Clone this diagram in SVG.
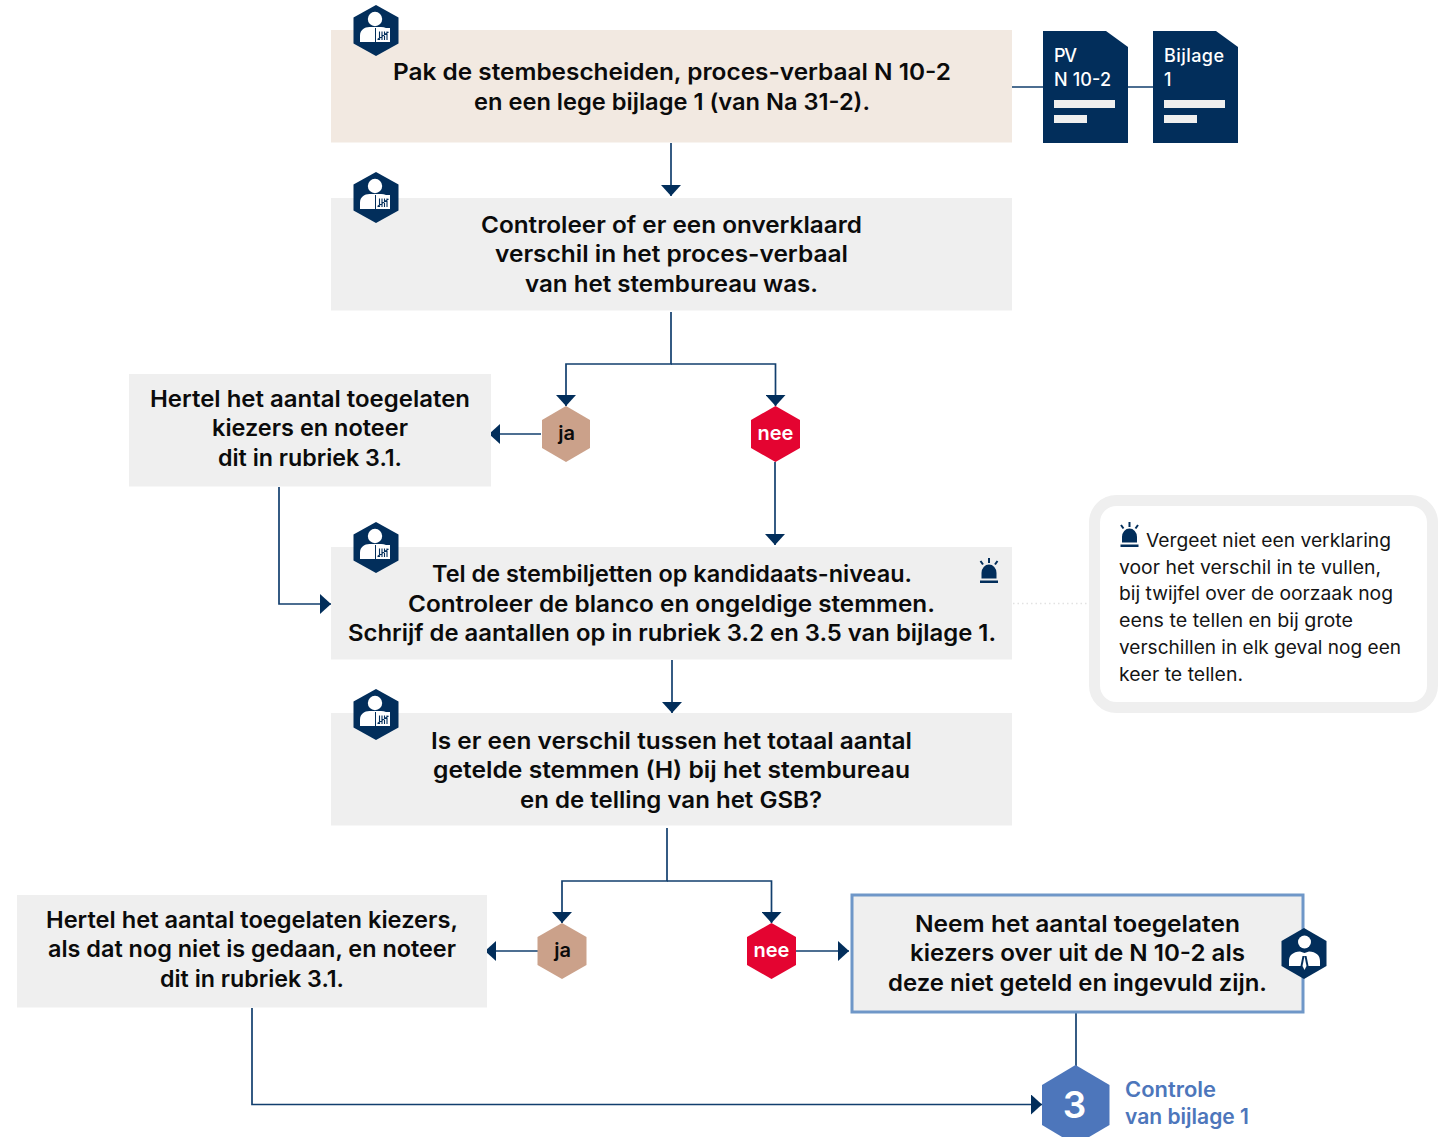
<svg xmlns="http://www.w3.org/2000/svg" width="1441" height="1137" viewBox="0 0 1441 1137">
<style>
text{font-family:"Inter","Liberation Sans",sans-serif}
.t{font-size:22.5px;font-weight:600;fill:#0b0b0b}
.p{font-size:18.5px;font-weight:400;fill:#141414}
.box{fill:#efefef}
.c{fill:none;stroke:#123f6e;stroke-width:1.7}
.a{marker-end:url(#arr)}
.d{fill:#022e5b}
.dt{font-size:18px;font-weight:500;fill:#fff}
.l{font-size:21px;font-weight:600;fill:#4d76bb}
</style>
<defs>
<marker id="arr" markerUnits="userSpaceOnUse" markerWidth="11" markerHeight="20" refX="11" refY="10" orient="auto"><path d="M0 0L11 10L0 20Z" fill="#022e5b"/></marker>
<g id="worker">
<path d="M0-25.500L22.500-13V13L0 25.500L-22.500 13V-13Z" fill="#022e5b"/>
<circle cx="-1" cy="-11.500" r="7.200" fill="#fff"/>
<path d="M-16 11.500V5C-16-.5-11.500-3.500-6.500-3.500H5Q8-3.500 10-2.500H-1V11.500Z" fill="#fff"/>
<rect x="0" y="-2.500" width="14" height="14" fill="#fff"/>
<path d="M3.500 1V9.500M6 1V9.500M8.500 1V9.500M11 1V9.500M1.500 9L12.500 1.500" fill="none" stroke="#022e5b" stroke-width="1.100"/>
</g>
<g id="siren">
<path d="M-9 25H9V22.500H-9ZM-7.500 20.500H7.500V15A7.500 8.500 0 0 0-7.500 15Z" fill="#022e5b"/>
<path d="M0 0V5M-8.500 3L-6 6.500M8.500 3L6 6.500" fill="none" stroke="#022e5b" stroke-width="2"/>
</g>
</defs>
<g id="connectors">
<path class="c" d="M1012 87H1043M1128 87H1153"/>
<path class="c a" d="M671 143V196"/>
<path class="c a" d="M671 312V364H566V406"/>
<path class="c a" d="M671 364H775.500V406"/>
<path class="c a" d="M541 434H489"/>
<path class="c a" d="M775 462V545"/>
<path class="c a" d="M279 487V604H331"/>
<path class="c a" d="M672 660V713"/>
<path class="c a" d="M667 828V881H562V923"/>
<path class="c a" d="M667 881H771.500V923"/>
<path class="c a" d="M538 951H485"/>
<path class="c a" d="M796 951H849"/>
<path class="c a" d="M252 1008V1104.500H1042"/>
<path class="c" d="M1076 1013V1066"/>
<path d="M1013 603.500H1088" fill="none" stroke="#e2e2e2" stroke-width="1.500" stroke-dasharray="1.500 3"/>
</g>
<g id="n1">
<rect x="331" y="30" width="681" height="112.500" fill="#f2e9e1"/>
<use href="#worker" x="376" y="30.500"/>
<text class="t" x="393" y="80" textLength="558" lengthAdjust="spacingAndGlyphs">Pak de stembescheiden, proces-verbaal N 10-2</text>
<text class="t" x="474" y="110" textLength="396" lengthAdjust="spacingAndGlyphs">en een lege bijlage 1 (van Na 31-2).</text>
</g>
<g id="doc-pv">
<path class="d" d="M1043 31H1106L1128 47V143H1043Z"/>
<text class="dt" x="1054" y="62" textLength="23">PV</text>
<text class="dt" x="1054" y="86" textLength="57">N 10-2</text>
<rect x="1054" y="100" width="61" height="8" fill="#efefef"/><rect x="1054" y="115" width="33" height="8" fill="#efefef"/>
</g>
<g id="doc-bijlage">
<path class="d" d="M1153 31H1216L1238 47V143H1153Z"/>
<text class="dt" x="1164" y="62" textLength="60">Bijlage</text>
<text class="dt" x="1164" y="86">1</text>
<rect x="1164" y="100" width="61" height="8" fill="#efefef"/><rect x="1164" y="115" width="33" height="8" fill="#efefef"/>
</g>
<g id="n2">
<rect class="box" x="331" y="198" width="681" height="112.500"/>
<use href="#worker" x="376" y="197.500"/>
<text class="t" x="481" y="233" textLength="381" lengthAdjust="spacingAndGlyphs">Controleer of er een onverklaard</text>
<text class="t" x="495" y="262" textLength="353" lengthAdjust="spacingAndGlyphs">verschil in het proces-verbaal</text>
<text class="t" x="525" y="292" textLength="293" lengthAdjust="spacingAndGlyphs">van het stembureau was.</text>
</g>
<g id="n-hertel1">
<rect class="box" x="129" y="374" width="362" height="112.500"/>
<text class="t" x="150" y="407" textLength="320" lengthAdjust="spacingAndGlyphs">Hertel het aantal toegelaten</text>
<text class="t" x="212" y="436" textLength="196" lengthAdjust="spacingAndGlyphs">kiezers en noteer</text>
<text class="t" x="218" y="466" textLength="184" lengthAdjust="spacingAndGlyphs">dit in rubriek 3.1.</text>
</g>
<g id="ja1">
<path d="M566 406L590 420V448L566 462L542 448V420Z" fill="#cba18a"/>
<text x="566.500" y="440" text-anchor="middle" font-size="20" font-weight="600" fill="#0b0b0b">ja</text>
</g>
<g id="nee1">
<path d="M775.500 406L800 420V448L775.500 462L751 448V420Z" fill="#e40431"/>
<text x="775.500" y="440" text-anchor="middle" font-size="20" font-weight="600" fill="#fff">nee</text>
</g>
<g id="n3">
<rect class="box" x="331" y="547" width="681" height="112.500"/>
<use href="#worker" x="376" y="547.500"/>
<use href="#siren" x="989" y="558"/>
<text class="t" x="432" y="582" textLength="480" lengthAdjust="spacingAndGlyphs">Tel de stembiljetten op kandidaats-niveau.</text>
<text class="t" x="408" y="612" textLength="527" lengthAdjust="spacingAndGlyphs">Controleer de blanco en ongeldige stemmen.</text>
<text class="t" x="348" y="641" textLength="648" lengthAdjust="spacingAndGlyphs">Schrijf de aantallen op in rubriek 3.2 en 3.5 van bijlage 1.</text>
</g>
<g id="note">
<rect x="1094.500" y="500.500" width="338" height="207" rx="22" fill="#fff" stroke="#efefef" stroke-width="11"/>
<use href="#siren" x="1129.500" y="522"/>
<text class="p" x="1146" y="547" textLength="245" lengthAdjust="spacingAndGlyphs">Vergeet niet een verklaring</text>
<text class="p" x="1119" y="574" textLength="262" lengthAdjust="spacingAndGlyphs">voor het verschil in te vullen,</text>
<text class="p" x="1119" y="600" textLength="274" lengthAdjust="spacingAndGlyphs">bij twijfel over de oorzaak nog</text>
<text class="p" x="1119" y="627" textLength="234" lengthAdjust="spacingAndGlyphs">eens te tellen en bij grote</text>
<text class="p" x="1119" y="654" textLength="282" lengthAdjust="spacingAndGlyphs">verschillen in elk geval nog een</text>
<text class="p" x="1119" y="681" textLength="124" lengthAdjust="spacingAndGlyphs">keer te tellen.</text>
</g>
<g id="n4">
<rect class="box" x="331" y="713" width="681" height="112.500"/>
<use href="#worker" x="376" y="714.500"/>
<text class="t" x="431" y="749" textLength="481" lengthAdjust="spacingAndGlyphs">Is er een verschil tussen het totaal aantal</text>
<text class="t" x="433" y="778" textLength="477" lengthAdjust="spacingAndGlyphs">getelde stemmen (H) bij het stembureau</text>
<text class="t" x="520" y="808" textLength="302" lengthAdjust="spacingAndGlyphs">en de telling van het GSB?</text>
</g>
<g id="n-hertel2">
<rect class="box" x="17" y="895" width="470" height="112.500"/>
<text class="t" x="46" y="928" textLength="412" lengthAdjust="spacingAndGlyphs">Hertel het aantal toegelaten kiezers,</text>
<text class="t" x="48" y="957" textLength="408" lengthAdjust="spacingAndGlyphs">als dat nog niet is gedaan, en noteer</text>
<text class="t" x="160" y="987" textLength="184" lengthAdjust="spacingAndGlyphs">dit in rubriek 3.1.</text>
</g>
<g id="ja2">
<path d="M562 923L586.500 937V965L562 979L537.500 965V937Z" fill="#cba18a"/>
<text x="562.500" y="957" text-anchor="middle" font-size="20" font-weight="600" fill="#0b0b0b">ja</text>
</g>
<g id="nee2">
<path d="M771.500 923L796 937V965L771.500 979L747 965V937Z" fill="#e40431"/>
<text x="771.500" y="957" text-anchor="middle" font-size="20" font-weight="600" fill="#fff">nee</text>
</g>
<g id="n-neem">
<rect x="852" y="895" width="451" height="117" fill="#efefef" stroke="#6f97c8" stroke-width="3"/>
<text class="t" x="915" y="932" textLength="325" lengthAdjust="spacingAndGlyphs">Neem het aantal toegelaten</text>
<text class="t" x="910" y="961" textLength="335" lengthAdjust="spacingAndGlyphs">kiezers over uit de N 10-2 als</text>
<text class="t" x="888" y="991" textLength="379" lengthAdjust="spacingAndGlyphs">deze niet geteld en ingevuld zijn.</text>
<path d="M1304 928L1326.500 941V966L1304 979L1281.500 966V941Z" fill="#022e5b"/>
<circle cx="1304.500" cy="942" r="6.500" fill="#fff"/>
<path d="M1289 966V961C1289 955 1293 952 1300 951.500L1304.500 953L1309 951.500C1316 952 1320 955 1320 961V966H1308.500L1306.500 956H1302.500L1300.500 966Z" fill="#fff"/>
<path d="M1304.500 956L1306.500 966L1304.500 970L1302.500 966Z" fill="#fff"/>
</g>
<g id="n-3">
<path d="M1075.500 1065L1109.500 1085V1125L1075.500 1145L1042 1125V1085Z" fill="#4d76bb"/>
<text x="1074.500" y="1118" text-anchor="middle" font-size="37" font-weight="600" fill="#fff">3</text>
<text class="l" x="1125" y="1097" textLength="91" lengthAdjust="spacingAndGlyphs">Controle</text>
<text class="l" x="1125" y="1124" textLength="124" lengthAdjust="spacingAndGlyphs">van bijlage 1</text>
</g>
</svg>
